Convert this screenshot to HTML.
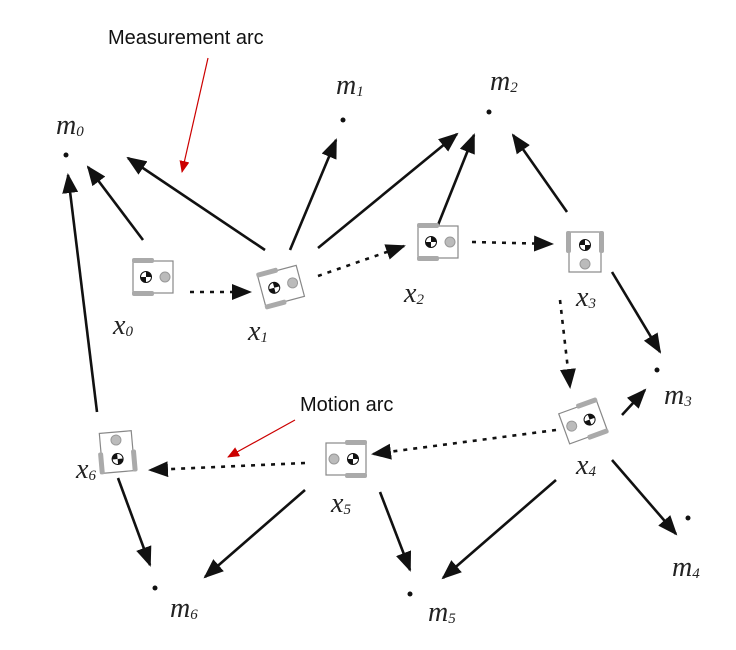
<!DOCTYPE html>
<html><head><meta charset="utf-8"><style>
html,body{margin:0;padding:0;background:#fff;}
svg{display:block;}
.lbl{font-family:"Liberation Serif",serif;font-style:italic;font-size:28px;fill:#222;}
.sub{font-size:15px;}
.ann{font-family:"Liberation Sans",sans-serif;font-size:20px;fill:#111;}
</style></head><body>
<svg width="736" height="650" viewBox="0 0 736 650">
<defs>
<marker id="ah" markerWidth="20" markerHeight="16" refX="18" refY="8" orient="auto" markerUnits="userSpaceOnUse"><path d="M0,0 L20,8 L0,16 Z" fill="#111"/></marker>
<marker id="rh" markerWidth="12" markerHeight="10" refX="11" refY="5" orient="auto" markerUnits="userSpaceOnUse"><path d="M0,0 L12,5 L0,10 Z" fill="#c00"/></marker>
<g id="robot">
<rect x="-20" y="-16" width="40" height="32" fill="#fff" stroke="#888" stroke-width="1.2"/>
<rect x="-21" y="-19" width="22" height="5" rx="2" fill="#aaa"/>
<rect x="-21" y="14" width="22" height="5" rx="2" fill="#aaa"/>
<circle cx="-7" cy="0" r="5.5" fill="#fff" stroke="#111" stroke-width="1"/>
<path d="M-7,0 L-7,-5.5 A5.5,5.5 0 0 1 -1.5,0 Z M-7,0 L-7,5.5 A5.5,5.5 0 0 1 -12.5,0 Z" fill="#111"/>
<circle cx="12" cy="0" r="5" fill="#bbb" stroke="#999"/>
</g>
</defs>
<g stroke="#111" stroke-width="2.6" marker-end="url(#ah)">
<line x1="143" y1="240" x2="88" y2="167"/>
<line x1="265" y1="250" x2="128" y2="158"/>
<line x1="290" y1="250" x2="336" y2="140"/>
<line x1="318" y1="248" x2="457" y2="134"/>
<line x1="438" y1="225" x2="474" y2="135"/>
<line x1="567" y1="212" x2="513" y2="135"/>
<line x1="612" y1="272" x2="660" y2="352"/>
<line x1="622" y1="415" x2="645" y2="390"/>
<line x1="612" y1="460" x2="676" y2="534"/>
<line x1="556" y1="480" x2="443" y2="578"/>
<line x1="380" y1="492" x2="410" y2="570"/>
<line x1="305" y1="490" x2="205" y2="577"/>
<line x1="118" y1="478" x2="150" y2="565"/>
<line x1="97" y1="412" x2="68" y2="175"/>
</g>
<g stroke="#111" stroke-width="2.6" stroke-dasharray="4,6" marker-end="url(#ah)">
<line x1="190" y1="292" x2="250" y2="292"/>
<line x1="318" y1="276" x2="404" y2="246"/>
<line x1="472" y1="242" x2="552" y2="244"/>
<line x1="560" y1="300" x2="570" y2="387"/>
<line x1="556" y1="430" x2="373" y2="454"/>
<line x1="305" y1="463" x2="150" y2="470"/>
</g>
<g>
<use href="#robot" transform="translate(153,277)"/>
<use href="#robot" transform="translate(281,286) rotate(-15)"/>
<use href="#robot" transform="translate(438,242)"/>
<use href="#robot" transform="translate(585,252) rotate(90)"/>
<use href="#robot" transform="translate(583,422) rotate(160)"/>
<use href="#robot" transform="translate(346,459) rotate(180)"/>
<use href="#robot" transform="translate(117,452) rotate(-95)"/>
</g>
<g fill="#111">
<circle cx="66" cy="155" r="2.5"/><circle cx="343" cy="120" r="2.5"/><circle cx="489" cy="112" r="2.5"/>
<circle cx="657" cy="370" r="2.5"/><circle cx="688" cy="518" r="2.5"/><circle cx="410" cy="594" r="2.5"/><circle cx="155" cy="588" r="2.5"/>
</g>
<g>
<text class="lbl" x="56" y="134">m<tspan class="sub" dy="2">0</tspan></text>
<text class="lbl" x="336" y="94">m<tspan class="sub" dy="2">1</tspan></text>
<text class="lbl" x="490" y="90">m<tspan class="sub" dy="2">2</tspan></text>
<text class="lbl" x="664" y="404">m<tspan class="sub" dy="2">3</tspan></text>
<text class="lbl" x="672" y="576">m<tspan class="sub" dy="2">4</tspan></text>
<text class="lbl" x="428" y="621">m<tspan class="sub" dy="2">5</tspan></text>
<text class="lbl" x="170" y="617">m<tspan class="sub" dy="2">6</tspan></text>
</g>
<g>
<text class="lbl" x="113" y="334">x<tspan class="sub" dy="2">0</tspan></text>
<text class="lbl" x="248" y="340">x<tspan class="sub" dy="2">1</tspan></text>
<text class="lbl" x="404" y="302">x<tspan class="sub" dy="2">2</tspan></text>
<text class="lbl" x="576" y="306">x<tspan class="sub" dy="2">3</tspan></text>
<text class="lbl" x="576" y="474">x<tspan class="sub" dy="2">4</tspan></text>
<text class="lbl" x="331" y="512">x<tspan class="sub" dy="2">5</tspan></text>
<text class="lbl" x="76" y="478">x<tspan class="sub" dy="2">6</tspan></text>
</g>
<g>
<text class="ann" x="108" y="44">Measurement arc</text>
<line x1="208" y1="58" x2="182" y2="172" stroke="#c00" stroke-width="1.2" marker-end="url(#rh)"/>
<text class="ann" x="300" y="411">Motion arc</text>
<line x1="295" y1="420" x2="228" y2="457" stroke="#c00" stroke-width="1.2" marker-end="url(#rh)"/>
</g>
</svg>
</body></html>
